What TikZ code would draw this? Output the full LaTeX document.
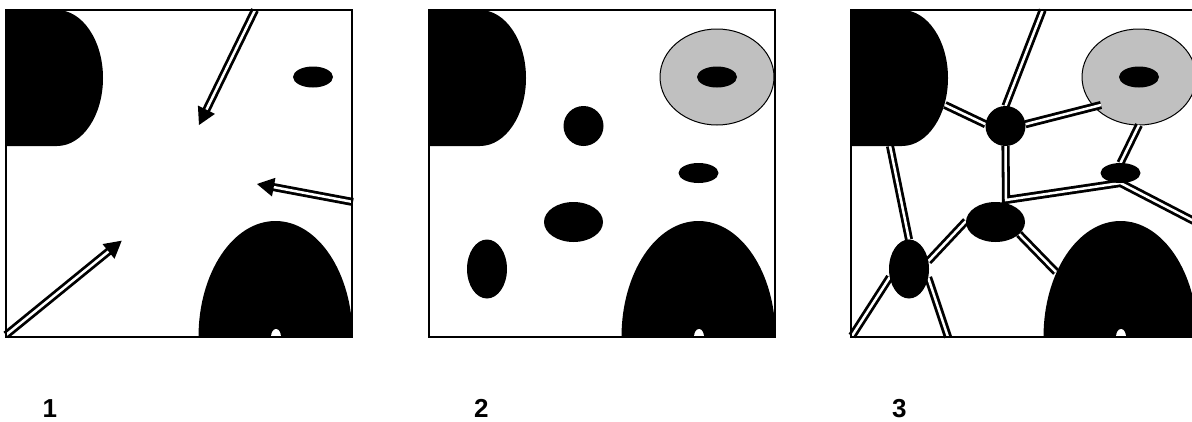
\documentclass[tikz,border=0pt]{standalone}
\usepackage{fontspec}
\setmainfont{Liberation Sans}
\usetikzlibrary{calc,shapes.geometric}
\definecolor{donutgray}{HTML}{C0C0C0}
\pgfdeclarelayer{low}
\pgfdeclarelayer{conn}
\pgfsetlayers{low,conn,main}
\tikzset{
  blob/.style={ellipse, fill=black, inner sep=0pt, outer sep=0pt},
  donut/.style={ellipse, fill=donutgray, draw=black, line width=1pt, inner sep=0pt, outer sep=0pt, minimum width=114pt, minimum height=96pt},
  dbl/.style={draw=black, double=white, line width=2.8pt, double distance=2.5pt},
  frame/.style={draw=black, line width=1.5pt},
  lbl/.style={font=\fontsize{26}{30}\selectfont\bfseries, anchor=base west, inner sep=0pt}
}
\newcommand\myarrow[2]{%
  \draw[dbl, shorten >=15pt] (#1) -- (#2);
  \fill (#2) -- ($(#2)!17pt!(#1)!9.5pt!90:(#1)$) -- ($(#2)!17pt!(#1)!9.5pt!-90:(#1)$) -- cycle;}
\newcommand\tlshape{\fill (0,10) -- (51,10) arc[start angle=-90,end angle=90,x radius=46,y radius=68] -- (0,146) -- cycle;}
\newcommand\domeshape{%
  \fill (192.5,337) arc[start angle=-180,end angle=0,x radius=77,y radius=116] -- cycle;
  \fill[white] (265,337) arc[start angle=-180,end angle=0,x radius=5,y radius=8] -- cycle;}
\begin{document}
\begin{tikzpicture}[x=1pt,y=-1pt]
\useasboundingbox (0,0) rectangle (1192,421);
\clip (0,0) rectangle (1192,421);
% ---------------- panel 1
\begin{scope}[xshift=6pt]
  \tlshape
  \domeshape
  \node[blob, minimum width=40pt, minimum height=21pt] (e1) at (307,77) {};
  \coordinate (a1s) at (249,10);
  \coordinate (a1t) at (193,125);
  \coordinate (a2s) at (347,202);
  \coordinate (a2t) at (251,184);
  \coordinate (a3s) at (0,335);
  \coordinate (a3t) at (115.7,240.7);
  \myarrow{a1s}{a1t}
  \myarrow{a2s}{a2t}
  \myarrow{a3s}{a3t}
  \draw[frame] (0,10) rectangle (346,337);
\end{scope}
% ---------------- panel 2
\begin{scope}[xshift=429pt]
  \tlshape
  \domeshape
  \node[donut] (d2) at (288,77) {};
  \node[blob, minimum width=40pt, minimum height=21pt] (e2) at (288,77) {};
  \node[blob, minimum width=40pt, minimum height=40pt] (c2) at (154.5,126) {};
  \node[blob, minimum width=40pt, minimum height=20pt] (s2) at (269.5,173) {};
  \node[blob, minimum width=59pt, minimum height=40pt] (m2) at (144.5,222) {};
  \node[blob, minimum width=40pt, minimum height=59pt] (v2) at (58,269) {};
  \draw[frame] (0,10) rectangle (346,337);
\end{scope}
% ---------------- panel 3
\begin{scope}[xshift=851pt]
  \begin{pgfonlayer}{low}
    \node[donut] (d3) at (288,77) {};
  \end{pgfonlayer}
  \tlshape
  \domeshape
  \node[blob, minimum width=40pt, minimum height=21pt] (e3) at (288,77) {};
  \node[blob, minimum width=40pt, minimum height=40pt] (c3) at (154.5,126) {};
  \node[blob, minimum width=40pt, minimum height=20pt] (s3) at (269.5,173) {};
  \node[blob, minimum width=59pt, minimum height=40pt] (m3) at (144.5,222) {};
  \node[blob, minimum width=40pt, minimum height=59pt] (v3) at (58,269) {};
  \coordinate (top3) at (191.7,10);
  \coordinate (tl3a) at (94,105);
  \coordinate (d3in) at (250,105);
  \coordinate (j3) at (155,200);
  \coordinate (r3) at (365,232.5);
  \coordinate (tl3b) at (39,146);
  \coordinate (dm3) at (205,272);
  \coordinate (bl3) at (1,336);
  \coordinate (b3) at (97,337);
  \begin{pgfonlayer}{conn}
    \draw[dbl] (top3) -- (c3.north);
    \draw[dbl] (tl3a) -- (c3.175);
    \draw[dbl] (c3.5) -- (d3in);
    \draw[dbl] (c3.south) -- (j3) -- (s3.south) -- (r3);
    \draw[dbl] (d3.south) -- (s3.north);
    \draw[dbl] (m3.178) -- (v3.22);
    \draw[dbl] (m3.-27) -- (dm3);
    \draw[dbl] (tl3b) -- (v3.north);
    \draw[dbl] (v3.203) -- (bl3);
    \draw[dbl] (v3.-24) -- (b3);
  \end{pgfonlayer}
  \draw[frame] (0,10) rectangle (346,337);
\end{scope}
% ---------------- labels
\node[lbl] (l1) at (42.5,417.5) {1};
\node[lbl] (l2) at (474,417.5) {2};
\node[lbl] (l3) at (892,417.5) {3};
\end{tikzpicture}
\end{document}
